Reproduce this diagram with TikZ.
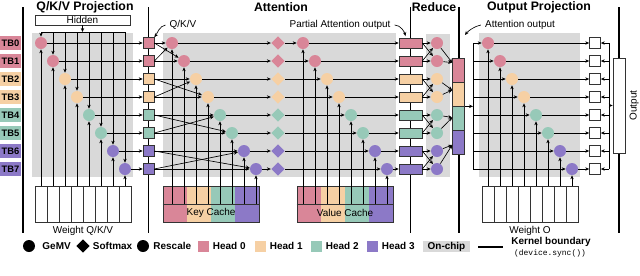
\documentclass[tikz,border=0pt]{standalone}
\usepackage{fontspec}
\setmainfont{Liberation Sans}
\setmonofont{Liberation Mono}
\usetikzlibrary{arrows.meta,calc,positioning,shapes.geometric}
\definecolor{hc0}{RGB}{217,134,152}
\definecolor{hc1}{RGB}{246,208,164}
\definecolor{hc2}{RGB}{151,201,184}
\definecolor{hc3}{RGB}{140,121,199}
\definecolor{chipgray}{RGB}{217,217,217}
\begin{document}
\begin{tikzpicture}[x=0.3mm,y=-0.3mm,line width=0.55pt,>={Stealth[length=3.4pt,width=2.9pt]},
    font=\fontsize{8.5}{10}\selectfont,
    ttl/.style={font=\fontsize{10.5}{12}\selectfont\bfseries},
    lgd/.style={font=\fontsize{8.5}{10}\selectfont\bfseries,inner sep=1pt},
    tbtag/.style={font=\fontsize{8}{9}\selectfont\bfseries,minimum width=6.3mm,minimum height=4.2mm,inner sep=0pt},
    op/.style={circle,minimum size=3.6mm,inner sep=0pt},
    smx/.style={diamond,minimum size=4.1mm,inner sep=0pt},
    sq/.style={draw=black!80,minimum size=3.3mm,inner sep=0pt},
    part/.style={draw=black!80,minimum width=6.9mm,minimum height=3mm,inner sep=0pt},
    blk/.style={draw=black!80,minimum width=28.8mm,minimum height=10.8mm,inner sep=0pt},
    kb/.style={line width=1.7pt}]
\useasboundingbox (0,0) rectangle (640,275);
% on-chip regions
\fill[chipgray] (32,33) rectangle (133,177);
\fill[chipgray] (163,33) rectangle (396,177);
\fill[chipgray] (426,34) rectangle (450,177);
\fill[chipgray] (479,33) rectangle (580,177);
% kernel boundaries
\foreach \x in {23,148.5,410.5,458.5,619} \draw[kb] (\x,7) -- (\x,233);
% titles and labels
\node[ttl] (tqkv) at (85,7) {Q/K/V Projection};
\node[ttl] (tatt) at (281,7) {Attention};
\node[ttl] (tred) at (434,7) {Reduce};
\node[ttl] (tout) at (539,7) {Output Projection};
\node (lqkv) at (183,25) {Q/K/V};
\node (lpart) at (340,25) {Partial Attention output};
\node (lao) at (520,25) {Attention output};
\node[draw=black!80,minimum width=28.5mm,minimum height=3mm,inner sep=0pt] (hid) at (82.5,20) {Hidden};
\coordinate (hbus) at (82.5,32);
% weights and caches
\node[blk] (wqkv) at (83,204) {};
\foreach \j in {1,...,7} \draw[black!80] (35+12*\j,186) -- (35+12*\j,222);
\node[below=0pt of wqkv] (wqkvl) {Weight Q/K/V};
\foreach \k in {0,...,3} \fill[hc\k] (163+24*\k,186) rectangle (187+24*\k,222);
\node[blk] (kcache) at (211,204) {};
\draw[black!80] (kcache.west) -- (kcache.east);
\node (kcachel) at ($(kcache.center)!.5!(kcache.south)$) {Key Cache};
\foreach \k in {0,...,3} \fill[hc\k] (297+24*\k,186) rectangle (321+24*\k,222);
\node[blk] (vcache) at (345,204) {};
\draw[black!80] (vcache.west) -- (vcache.east);
\node (vcachel) at ($(vcache.center)!.5!(vcache.south)$) {Value Cache};
\node[blk] (wo) at (530,204) {};
\foreach \j in {1,...,7} \draw[black!80] (482+12*\j,186) -- (482+12*\j,222);
\node[below=0pt of wo] (wol) {Weight O};
% thread blocks
\foreach \i in {0,...,7}{
  \pgfmathtruncatemacro\h{\i/2}
  \pgfmathsetmacro\y{43+18*\i}
  \node[tbtag,fill=hc\h] (tb\i) at (10.5,\y) {TB\i};
  \node[op,fill=hc\h] (pq\i) at (41+12*\i,\y) {};
  \node[sq,fill=hc\h] (qkv\i) at (148.5,\y) {};
  \node[op,fill=hc\h] (ak\i) at (172+12*\i,\y) {};
  \node[smx,fill=hc\h] (sm\i) at (278,\y) {};
  \node[op,fill=hc\h] (av\i) at (303+12*\i,\y) {};
  \node[part,fill=hc\h] (pa\i) at (410.5,\y) {};
  \node[op,fill=hc\h] (rd\i) at (437,\y) {};
  \node[op,fill=hc\h] (po\i) at (488+12*\i,\y) {};
  \node[sq,fill=white] (os\i) at (595,\y) {};
}
\foreach \k in {0,...,3}
  \node[draw=black!80,fill=hc\k,minimum width=3.6mm,minimum height=7.2mm,inner sep=0pt] (seg\k) at (458.5,70+24*\k) {};
\node[draw=black!80,fill=white,minimum width=3.6mm,minimum height=28.5mm,inner sep=0pt] (obox) at (619,105.5) {};
\node[rotate=90,anchor=north,inner sep=3.5pt] (loutt) at (obox.east) {Output};
\coordinate (obus) at (473,43);
\coordinate (rbus) at (609,43);
\coordinate (aotip) at (465,35);
% connectors
\draw[->] (hid) -- (hbus);
\draw (pq0 |- hbus) -- (pq7 |- hbus);
\draw (obus) -- (obus |- po7);
\draw (rbus) -- (rbus |- os7);
\foreach \i in {0,...,7}{
  \draw[->] (pq\i |- hbus) -- (pq\i);
  \draw[->] (pq\i |- wqkv.north) -- (pq\i);
  \draw[->] (pq\i) -- (qkv\i);
  \draw[->] (qkv\i) -- (ak\i);
  \draw[->] (ak\i |- kcache.center) -- (ak\i);
  \draw[->] (ak\i) -- (sm\i);
  \draw[->] (sm\i) -- (av\i);
  \draw[->] (av\i |- vcache.center) -- (av\i);
  \draw[->] (av\i) -- (pa\i);
  \draw[->] (pa\i) -- (rd\i);
  \draw[->] (po\i -| obus) -- (po\i);
  \draw[->] (po\i |- wo.north) -- (po\i);
  \draw[->] (po\i) -- (os\i);
  \draw[->] (os\i -| rbus) -- (os\i);
}
\foreach \k in {0,...,3}{
  \pgfmathtruncatemacro\a{2*\k}
  \pgfmathtruncatemacro\b{2*\k+1}
  \pgfmathsetmacro\f{0.2+0.14*\k}
  \coordinate (in\k) at ($(seg\k.north west)!\f!(seg\k.south west)$);
  \draw[->] (qkv\a.east) -- (ak\b);
  \draw[->] (qkv\b.east) -- (ak\a);
  \draw[->] (pa\a.east) -- (rd\b);
  \draw[->] (pa\b.east) -- (rd\a);
  \draw[->] (rd\a) -- (in\k);
  \draw[->] (rd\b) -- (in\k);
}
\draw[->] (seg1.south east) -- (seg1.south east -| obus);
\draw[->] (obox.west -| rbus) -- (obox.west);
\draw[->] (lqkv.west) .. controls +(-6,1) and +(3,-4) .. (qkv0.north east);
\draw[->] (lpart.east) .. controls +(6,0) and +(-1,-4) .. ([xshift=-1.5mm,yshift=0.5mm]pa0.north);
\draw[->] (lao.west) .. controls +(-6,1) and +(3,-4) .. (aotip);
% legend
\node[op,fill=black] (lgemv) at (29,246) {};
\node[lgd,right=1.7mm of lgemv] (lgemvt) {GeMV};
\node[smx,fill=black] (lsmx) at (83,246) {};
\node[lgd,right=0.4mm of lsmx] (lsmxt) {Softmax};
\node[op,fill=black] (lres) at (143,246) {};
\node[lgd,right=0.8mm of lres] (lrest) {Rescale};
\foreach \k/\x in {0/203,1/260,2/316,3/372}{
  \node[minimum size=3.3mm,inner sep=0pt,fill=hc\k] (lh\k) at (\x,246) {};
  \node[lgd,right=0.8mm of lh\k] (lht\k) {Head \k};
}
\node[lgd,fill=chipgray,minimum width=14.1mm,minimum height=3.3mm] (lchip) at (446.5,246.5) {On-chip};
\draw[kb] (478,247) -- (503,247);
\node[lgd] (lkb) at (551,242) {Kernel boundary};
\node[font=\fontsize{6.8}{8}\selectfont\ttfamily,inner sep=1pt] (lsync) at (550,253.5) {(device.sync())};
\end{tikzpicture}
\end{document}
